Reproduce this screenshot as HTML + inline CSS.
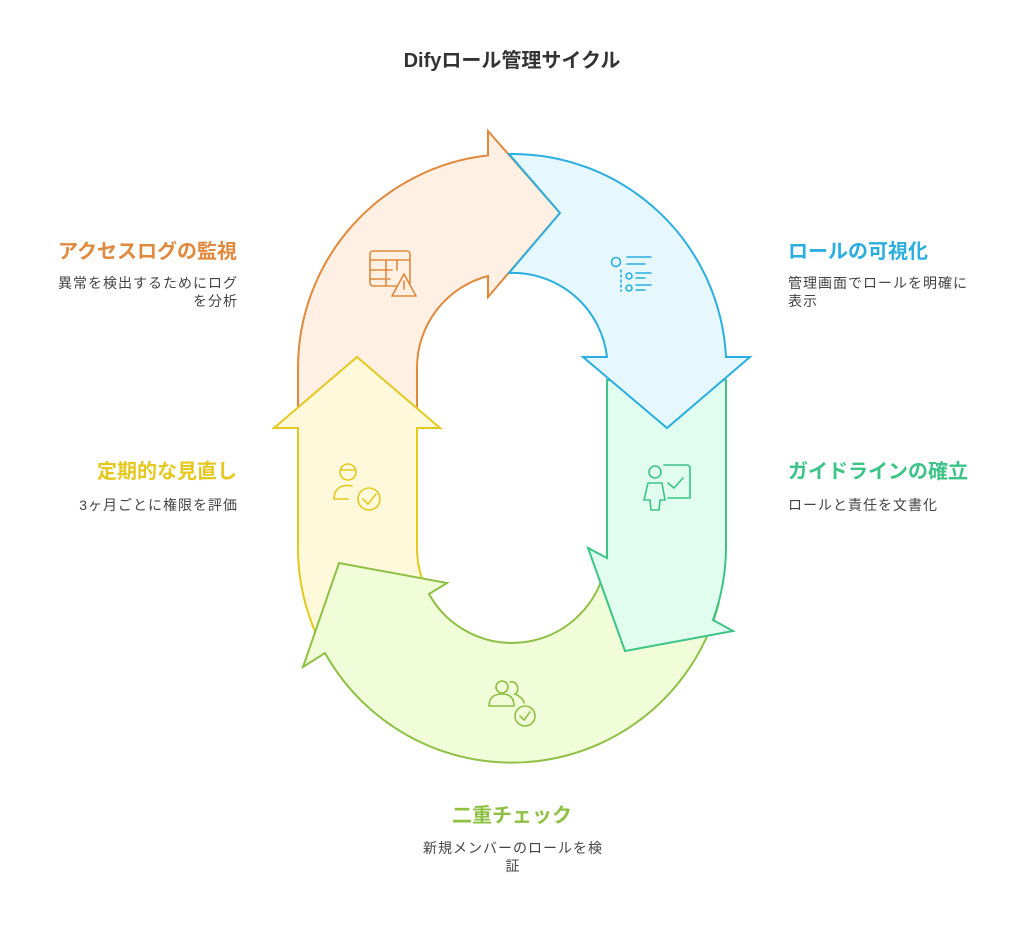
<!DOCTYPE html>
<html><head><meta charset="utf-8"><style>
body{margin:0;background:#fff;width:1024px;height:929px;overflow:hidden;font-family:"Liberation Sans","Noto Sans CJK JP",sans-serif;}
.t{position:absolute;font-weight:bold;font-size:20px;line-height:24px;}
.d{position:absolute;font-size:14px;color:#444;line-height:18px;letter-spacing:1px;}
</style></head><body>
<svg width="1024" height="929" style="position:absolute;left:0;top:0" xmlns="http://www.w3.org/2000/svg">
<g stroke-width="2" stroke-linejoin="miter">
<path d="M298,430 L298,368 A214,214 0 0 1 488,155.4 L488,131 L560,213 L488,297 L488,276 A95,95 0 0 0 417,368 L417,430 Z" fill="#fff0e3" stroke="#e0893d"/>
<path d="M298,428 L274,428 L357,357 L440,428 L417,428 L417,548 A95,95 0 0 0 439,609 L318,638 A214,214 0 0 1 298,548 Z" fill="#fff9dc" stroke="#e5c81f"/>
<path d="M429,594 A95,95 0 0 0 605.6,564.5 L718.7,603.4 A214,214 0 0 1 325,653 L303,667 L339,563 L447,583 Z" fill="#f1fcd9" stroke="#8dc043"/>
<path d="M607,380 L607,558 L588,548 L625,651 L733,631 L713,620 A214,214 0 0 0 726,548 L726,380 Z" fill="#e0fdef" stroke="#3cc487"/>
<path d="M509,154 A214,214 0 0 1 726,357 L750,357 L667,428 L583,357 L607,357 A95,95 0 0 0 509,273 L560,213 Z" fill="#e6f8fe" stroke="#2aaee0"/>
</g>
<g fill="none" stroke-width="1.6" stroke-linecap="round">
<g stroke="#e0893d"><rect x="370" y="251" width="40" height="35" rx="3"/><line x1="370" y1="260" x2="410" y2="260"/><line x1="370" y1="270" x2="392" y2="270"/><line x1="370" y1="279" x2="390" y2="279"/><line x1="386" y1="260" x2="386" y2="286"/><line x1="397" y1="260" x2="397" y2="270"/><path d="M404,274 L416,296 L392,296 Z" fill="#fff0e3"/><line x1="404" y1="281" x2="404" y2="289"/></g>
<g stroke="#2aaee0"><circle cx="616" cy="262" r="4.5"/><line x1="627" y1="257" x2="651" y2="257"/><line x1="627" y1="264" x2="645" y2="264"/><circle cx="629" cy="276" r="3"/><line x1="636" y1="273" x2="651" y2="273"/><line x1="636" y1="278" x2="645" y2="278"/><circle cx="629" cy="288" r="3"/><line x1="636" y1="285" x2="651" y2="285"/><line x1="636" y1="290" x2="645" y2="290"/><line x1="621" y1="270" x2="621" y2="291" stroke-dasharray="2 3"/></g>
<g stroke="#3cc487"><circle cx="655" cy="472" r="6"/><path d="M664,465 L688,465 L690,467 L690,498 L668,498"/><path d="M668,483 L674,488 L683,478"/><path d="M648,483 L662,483 L665,500 L660,500 L659,510 L651,510 L650,500 L644,500 Z"/></g>
<g stroke="#e5c81f"><circle cx="348" cy="472" r="8"/><line x1="341" y1="470" x2="355" y2="470"/><path d="M334,499 C334,488 342,484 352,486"/><line x1="334" y1="499" x2="348" y2="499"/><circle cx="369" cy="499" r="11"/><path d="M363,499 L368,504 L376,494"/></g>
<g stroke="#8dc043"><circle cx="502" cy="687" r="6"/><path d="M489,706 C489,697 495,694 502,694 C509,694 514,697 514,706 Z"/><path d="M510,682 C518,680 520,692 515,694 C520,696 524,700 524,703"/><circle cx="525" cy="716" r="10"/><path d="M520,716 L524,720 L530,712"/></g>
</g>
</svg>
<div class="t" style="left:0;width:1024px;top:49px;text-align:center;color:#333;">Difyロール管理サイクル</div>
<div class="t" style="right:787px;top:240px;color:#e0893d;">アクセスログの監視</div>
<div class="d" style="right:786px;top:274px;width:182px;text-align:right;">異常を検出するためにログを分析</div>
<div class="t" style="left:788px;top:240px;color:#2aaee0;">ロールの可視化</div>
<div class="d" style="left:788px;top:274px;width:182px;">管理画面でロールを明確に表示</div>
<div class="t" style="right:787px;top:460px;color:#e5c81f;">定期的な見直し</div>
<div class="d" style="right:786px;top:496px;text-align:right;">3ヶ月ごとに権限を評価</div>
<div class="t" style="left:788px;top:460px;color:#3cc487;">ガイドラインの確立</div>
<div class="d" style="left:788px;top:496px;">ロールと責任を文書化</div>
<div class="t" style="left:0;width:1024px;top:804px;text-align:center;color:#8dc043;">二重チェック</div>
<div class="d" style="left:421px;width:184px;top:839px;text-align:center;">新規メンバーのロールを検証</div>
</body></html>
